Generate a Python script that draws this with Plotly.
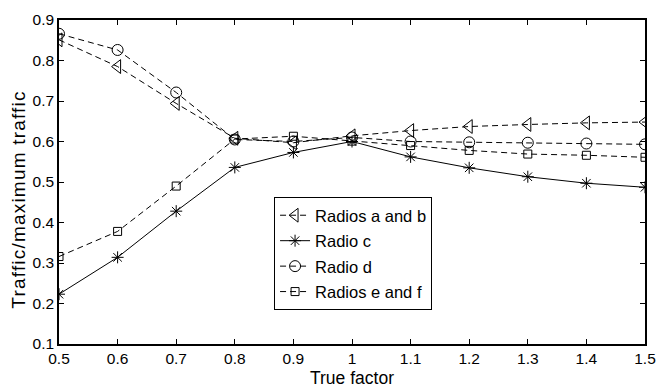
import plotly.graph_objects as go

x_vals = [0.5, 0.6, 0.7, 0.8, 0.9, 1.0, 1.1, 1.2, 1.3, 1.4, 1.5]
radios_ab = [0.851, 0.785, 0.694, 0.608, 0.597, 0.614, 0.627, 0.637, 0.642, 0.646, 0.648]
radio_c = [0.223, 0.314, 0.428, 0.536, 0.573, 0.600, 0.562, 0.535, 0.513, 0.497, 0.487]
radio_d = [0.866, 0.826, 0.721, 0.605, 0.600, 0.610, 0.600, 0.598, 0.597, 0.595, 0.593]
radios_ef = [0.316, 0.378, 0.490, 0.606, 0.613, 0.601, 0.590, 0.578, 0.569, 0.566, 0.561]

x_ticks = [0.5, 0.6, 0.7, 0.8, 0.9, 1.0, 1.1, 1.2, 1.3, 1.4, 1.5]
x_ticklabels = ["0.5", "0.6", "0.7", "0.8", "0.9", "1", "1.1", "1.2", "1.3", "1.4", "1.5"]
y_ticks = [0.1, 0.2, 0.3, 0.4, 0.5, 0.6, 0.7, 0.8, 0.9]
y_ticklabels = ["0.1", "0.2", "0.3", "0.4", "0.5", "0.6", "0.7", "0.8", "0.9"]

FONT = "Liberation Sans, Arial, sans-serif"
DASH = "6px,4px"

series = [
    ("Radios a and b", radios_ab, DASH, "triangle-left-open", 12),
    ("Radio c", radio_c, "solid", "asterisk-open", 10),
    ("Radio d", radio_d, DASH, "circle-open", 11),
    ("Radios e and f", radios_ef, DASH, "square-open", 8),
]

fig = go.Figure()
for i, (name, ys, dash, sym, sz) in enumerate(series):
    fig.add_trace(go.Scatter(
        x=x_vals, y=ys, name=name, mode="lines+markers",
        legendgroup=f"g{i}",
        line=dict(color="black", width=1, dash=dash),
        marker=dict(symbol=sym, size=sz, color="black",
                    line=dict(color="black", width=1)),
    ))

axis_common = dict(
    showline=True, linecolor="black", linewidth=1.5, mirror="ticks",
    ticks="inside", ticklen=5, tickcolor="black", tickwidth=1,
    showgrid=False, zeroline=False, automargin=False,
    tickfont=dict(family=FONT, size=15.5, color="black"),
)

fig.update_layout(
    width=658, height=387,
    margin=dict(l=59, r=13, t=20, b=43, autoexpand=False),
    paper_bgcolor="white", plot_bgcolor="white",
    font=dict(family=FONT, size=16, color="black"),
    xaxis=dict(range=[0.5, 1.5], tickvals=x_ticks, ticktext=x_ticklabels,
               **axis_common),
    yaxis=dict(range=[0.1, 0.9], tickvals=y_ticks, ticktext=y_ticklabels,
               **axis_common),
    legend=dict(x=0.367, y=0.4537, xanchor="left", yanchor="top",
                bordercolor="black", borderwidth=1, bgcolor="white",
                font=dict(family=FONT, size=16.5, color="black"),
                traceorder="grouped", tracegroupgap=1,
                itemwidth=30),
    showlegend=True,
    annotations=[
        dict(
            text="True factor",
            xref="paper", yref="paper", x=0.5, y=-0.106,
            xanchor="center", yanchor="middle",
            showarrow=False, font=dict(family=FONT, size=17.5, color="black"),
        ),
        dict(
            text='<span style="letter-spacing:1.2px">Traffic/maximum traffic</span>',
            xref="paper", yref="paper", x=-0.0691, y=0.444,
            xanchor="center", yanchor="middle", textangle=-90,
            showarrow=False, font=dict(family=FONT, size=19, color="black"),
        ),
    ],
)

fig.write_html("out.html")
